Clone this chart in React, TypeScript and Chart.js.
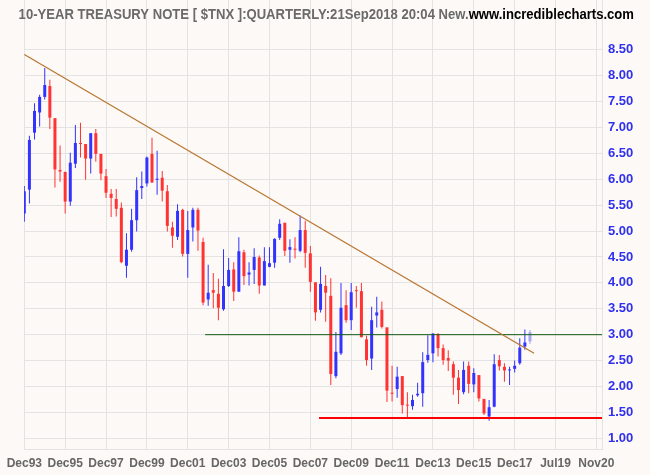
import React, { useEffect, useRef } from "react";
import { Chart, registerables } from "chart.js";

Chart.register(...registerables);

// Quarterly OHLC of the 10-year treasury note yield ($TNX), Dec93 .. Sep18
const opens = [
  5.34, 5.8, 6.9, 7.29, 7.59, 7.8, 7.18, 6.18, 6.14, 5.57,
  6.3, 6.7, 6.68, 6.4, 6.89, 6.49, 6.06, 5.72, 5.62, 5.45,
  4.33, 4.64, 5.21, 5.83, 5.92, 6.49, 5.99, 6.03, 5.77, 5.07,
  4.89, 5.41, 4.56, 5.07, 5.41, 4.79, 3.68, 3.86, 3.79, 3.49,
  3.94, 4.26, 3.83, 4.59, 4.16, 4.25, 4.49, 3.95, 4.31, 4.39,
  4.87, 5.16, 4.64, 4.66, 4.62, 5.02, 4.57, 4.01, 3.48, 3.94,
  3.75, 2.2, 2.64, 3.57, 3.28, 3.85, 3.84, 2.91, 2.54, 3.37,
  3.48, 3.14, 1.87, 1.95, 2.2, 1.64, 1.62, 1.83, 1.87, 2.51,
  2.64, 3.01, 2.74, 2.55, 2.43, 2.17, 1.89, 2.4, 2.04, 2.22,
  1.76, 1.42, 1.61, 2.51, 2.38, 2.31, 2.34, 2.45, 2.77, 2.87,
];
const highs = [
  5.87, 6.84, 7.47, 7.63, 8.15, 7.92, 7.18, 6.65, 6.15, 6.51,
  7.05, 7.09, 6.68, 6.89, 6.97, 6.49, 6.2, 5.81, 5.81, 5.55,
  4.96, 5.43, 6.04, 6.15, 6.44, 6.8, 6.55, 6.16, 5.89, 5.18,
  5.52, 5.43, 5.39, 5.45, 5.45, 4.87, 4.35, 4.19, 4.08, 4.65,
  4.48, 4.4, 4.88, 4.64, 4.4, 4.67, 4.53, 4.69, 4.69, 4.86,
  5.23, 5.16, 4.84, 4.88, 5.3, 5.2, 4.71, 4.01, 4.31, 4.15,
  4.09, 3.05, 4.0, 3.86, 4.0, 3.94, 4.0, 2.98, 3.54, 3.73,
  3.64, 3.14, 2.4, 2.38, 2.2, 1.89, 1.84, 2.07, 2.66, 2.99,
  3.03, 3.03, 2.81, 2.7, 2.48, 2.32, 2.48, 2.48, 2.35, 2.22,
  1.76, 1.74, 2.62, 2.61, 2.45, 2.38, 2.5, 2.93, 3.1, 3.09,
];
const lows = [
  5.18, 5.53, 6.77, 7.02, 7.54, 6.97, 5.84, 5.95, 5.34, 5.49,
  6.22, 6.42, 5.99, 6.11, 6.34, 5.98, 5.64, 5.27, 5.28, 4.38,
  4.1, 4.6, 4.99, 5.62, 5.86, 5.93, 5.7, 5.57, 4.99, 4.68,
  4.83, 4.51, 4.1, 4.8, 4.62, 3.57, 3.56, 3.51, 3.28, 3.46,
  3.92, 3.65, 3.83, 3.96, 3.95, 3.98, 3.79, 3.95, 4.3, 4.29,
  4.83, 4.52, 4.39, 4.47, 4.59, 4.29, 3.83, 3.27, 3.43, 3.25,
  2.03, 2.16, 2.61, 3.23, 3.09, 3.52, 2.95, 2.4, 2.32, 3.14,
  3.12, 1.7, 1.71, 1.78, 1.48, 1.39, 1.55, 1.8, 1.61, 2.46,
  2.47, 2.58, 2.42, 2.3, 1.84, 1.66, 1.85, 1.87, 1.89, 1.71,
  1.45, 1.34, 1.6, 2.31, 2.09, 2.03, 2.27, 2.42, 2.71, 2.82,
];
const closes = [
  5.77, 6.76, 7.32, 7.59, 7.82, 7.19, 6.19, 6.15, 5.57, 6.32,
  6.7, 6.68, 6.4, 6.89, 6.49, 6.11, 5.74, 5.64, 5.43, 4.4,
  4.64, 5.21, 5.79, 5.87, 6.42, 5.94, 6.01, 5.78, 5.1, 4.91,
  5.39, 4.56, 5.02, 5.41, 5.01, 3.62, 3.81, 3.81, 3.52, 3.94,
  4.25, 3.83, 4.61, 4.13, 4.2, 4.5, 3.95, 4.42, 4.38, 4.85,
  5.14, 4.62, 4.69, 4.64, 5.02, 4.58, 4.02, 3.43, 3.98, 3.81,
  2.24, 2.67, 3.52, 3.28, 3.82, 3.84, 2.95, 2.51, 3.28, 3.43,
  3.15, 1.92, 1.86, 2.19, 1.64, 1.63, 1.74, 1.86, 2.47, 2.61,
  3.02, 2.74, 2.51, 2.5, 2.17, 1.93, 2.32, 2.05, 2.26, 1.77,
  1.48, 1.6, 2.43, 2.39, 2.31, 2.32, 2.4, 2.75, 2.85, 3.05,
];

const xTickIdx = [0, 8, 16, 24, 32, 40, 48, 56, 64, 72, 80, 88, 96, 104, 112];
const xTickLabels = [
  "Dec93", "Dec95", "Dec97", "Dec99", "Dec01", "Dec03", "Dec05", "Dec07",
  "Dec09", "Dec11", "Dec13", "Dec15", "Dec17", "Jul19", "Nov20",
];
const yTickValues = [1, 1.5, 2, 2.5, 3, 3.5, 4, 4.5, 5, 5.5, 6, 6.5, 7, 7.5, 8, 8.5];

// Drawn lines (trendline, resistance at 3.00, support)
const trendX = [0, 99.8];
const trendY = [8.41, 2.64];
const resistanceX = [35.4, 113.1];
const resistanceY = [3.0, 3.0];
const supportX = [57.7, 113.1];
const supportY = [1.39, 1.39];

const titleMain = "10-YEAR TREASURY NOTE [ $TNX ]:QUARTERLY:21Sep2018 20:04 New.";
const titleSite = "www.incrediblecharts.com";

const FONT = "'Liberation Sans', Arial, sans-serif";

export default function App() {
  const ref = useRef<HTMLCanvasElement | null>(null);

  useEffect(() => {
    document.body.style.margin = "0";
    const canvas = ref.current;
    if (!canvas) return;
    const n = opens.length;
    const idx = opens.map((_, i) => i);
    const colors = idx.map((i) =>
      i === n - 1 ? "#a8a8f0" : closes[i] >= opens[i] ? "#3333ff" : "#ff3333"
    );

    const bgPlugin = {
      id: "bg",
      beforeDraw(chart: any) {
        const c = chart.ctx;
        c.save();
        c.fillStyle = "#fcf9f6";
        c.fillRect(0, 0, chart.width, chart.height);
        c.restore();
      },
    };

    const titlePlugin = {
      id: "title2",
      afterDraw(chart: any) {
        const c = chart.ctx;
        c.save();
        c.font = `bold 14px ${FONT}`;
        c.textBaseline = "alphabetic";
        const w1 = c.measureText(titleMain).width;
        const w2 = c.measureText(titleSite).width;
        const sx = (634 - 18.6) / (w1 + w2);
        c.translate(18.6, 18.5);
        c.scale(sx, 1);
        c.fillStyle = "#6a6a6a";
        c.fillText(titleMain, 0, 0);
        c.fillStyle = "#000000";
        c.fillText(titleSite, w1, 0);
        c.restore();
      },
    };

    const chart = new Chart(canvas, {
      type: "bar",
      data: {
        datasets: [
          {
            type: "line",
            data: trendX.map((x, i) => ({ x, y: trendY[i] })),
            borderColor: "#b9752f",
            borderWidth: 1.2,
            pointRadius: 0,
            order: 0,
          },
          {
            type: "line",
            data: resistanceX.map((x, i) => ({ x, y: resistanceY[i] })),
            borderColor: "#145a14",
            borderWidth: 1,
            pointRadius: 0,
            order: 0,
          },
          {
            type: "line",
            data: supportX.map((x, i) => ({ x, y: supportY[i] })),
            borderColor: "#ff0000",
            borderWidth: 2,
            pointRadius: 0,
            order: 0,
          },
          {
            type: "bar",
            data: idx.map((i) => ({ x: i, y: [lows[i], highs[i]] })),
            backgroundColor: colors,
            barThickness: 1,
            grouped: false,
            inflateAmount: 0,
            order: 2,
          },
          {
            type: "bar",
            data: idx.map((i) => ({
              x: i,
              y: [Math.min(opens[i], closes[i]), Math.max(opens[i], closes[i])],
            })),
            backgroundColor: colors,
            barThickness: 3,
            grouped: false,
            minBarLength: 1,
            inflateAmount: 0,
            order: 1,
          },
        ] as any,
      },
      options: {
        animation: false,
        responsive: false,
        layout: { padding: { left: 24, top: 0, right: 0, bottom: 0 } },
        plugins: {
          legend: { display: false },
          tooltip: { enabled: false },
          title: { display: false },
        },
        scales: {
          x: {
            type: "linear",
            min: -0.06,
            max: 113.1,
            offset: false,
            grid: { color: "#e3e3e3", drawTicks: false, offset: false },
            border: { color: "#e3e3e3" },
            afterBuildTicks: (s: any) => {
              s.ticks = xTickIdx.map((v) => ({ value: v }));
            },
            afterFit: (s: any) => {
              s.height = 26;
              s.paddingLeft = 0;
              s.paddingRight = 0;
            },
            ticks: {
              autoSkip: false,
              maxRotation: 0,
              padding: 7,
              color: "#666666",
              font: { family: FONT, size: 12, weight: "bold" },
              callback: (_v: any, i: number) => xTickLabels[i],
            },
          },
          y: {
            type: "linear",
            position: "right",
            min: 0.793,
            max: 9.461,
            grid: { color: "#e3e3e3", drawTicks: false },
            border: { color: "#e3e3e3" },
            afterBuildTicks: (s: any) => {
              s.ticks = yTickValues.map((v) => ({ value: v }));
            },
            afterFit: (s: any) => {
              s.width = 48;
              s.paddingTop = 0;
              s.paddingBottom = 0;
            },
            ticks: {
              padding: 6,
              color: "#3030f0",
              font: { family: FONT, size: 13, weight: "bold" },
              callback: (v: any) => Number(v).toFixed(2),
            },
          },
        },
      } as any,
      plugins: [bgPlugin, titlePlugin],
    });
    return () => chart.destroy();
  }, []);

  return (
    <div style={{ width: 650, height: 475 }}>
      <canvas ref={ref} width={650} height={475} style={{ display: "block" }} />
    </div>
  );
}
